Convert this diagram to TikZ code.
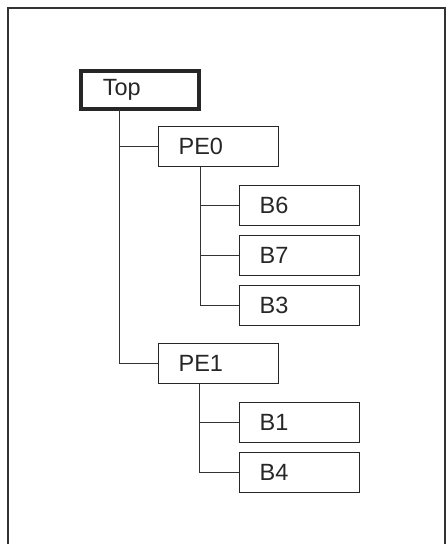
\documentclass[tikz,border=0pt]{standalone}
\usepackage{fontspec}
\setmainfont{Liberation Sans}
\begin{document}
\begin{tikzpicture}[x=1pt,y=-1pt,
  box/.style={draw=black!85, line width=1.2pt, anchor=north west,
    minimum width=120pt, minimum height=40pt, text width=80pt,
    inner xsep=20pt, inner ysep=0pt, align=left,
    font=\fontsize{23.5}{23.5}\selectfont, text=black!85},
  topbox/.style={box, line width=3.5pt, minimum width=118pt, minimum height=38pt, text width=74pt, inner xsep=22pt},
  link/.style={draw=black!80, line width=1pt}]
\useasboundingbox (0,0) rectangle (446,544);
\draw[black!80, line width=1.4pt] (8,544) -- (8,8) -- (445,8) -- (445,544);
\node[topbox] (top) at (79,69) {Top};
\node[box] (pe0) at (158,126) {PE0};
\node[box] (b6) at (239,185) {B6};
\node[box] (b7) at (239,235) {B7};
\node[box] (b3) at (239,285) {B3};
\node[box] (pe1) at (158,343) {PE1};
\node[box] (b1) at (239,402) {B1};
\node[box] (b4) at (239,452) {B4};
\coordinate (tv) at ([xshift=40pt,yshift=1.75pt]top.south west);
\coordinate (p0v) at ([xshift=42pt]pe0.south west);
\coordinate (p1v) at ([xshift=41pt]pe1.south west);
\draw[link] (tv) |- (pe0.west);
\draw[link] (tv) |- (pe1.west);
\draw[link] (p0v) |- (b6.west);
\draw[link] (p0v) |- (b7.west);
\draw[link] (p0v) |- (b3.west);
\draw[link] (p1v) |- (b1.west);
\draw[link] (p1v) |- (b4.west);
\end{tikzpicture}
\end{document}
